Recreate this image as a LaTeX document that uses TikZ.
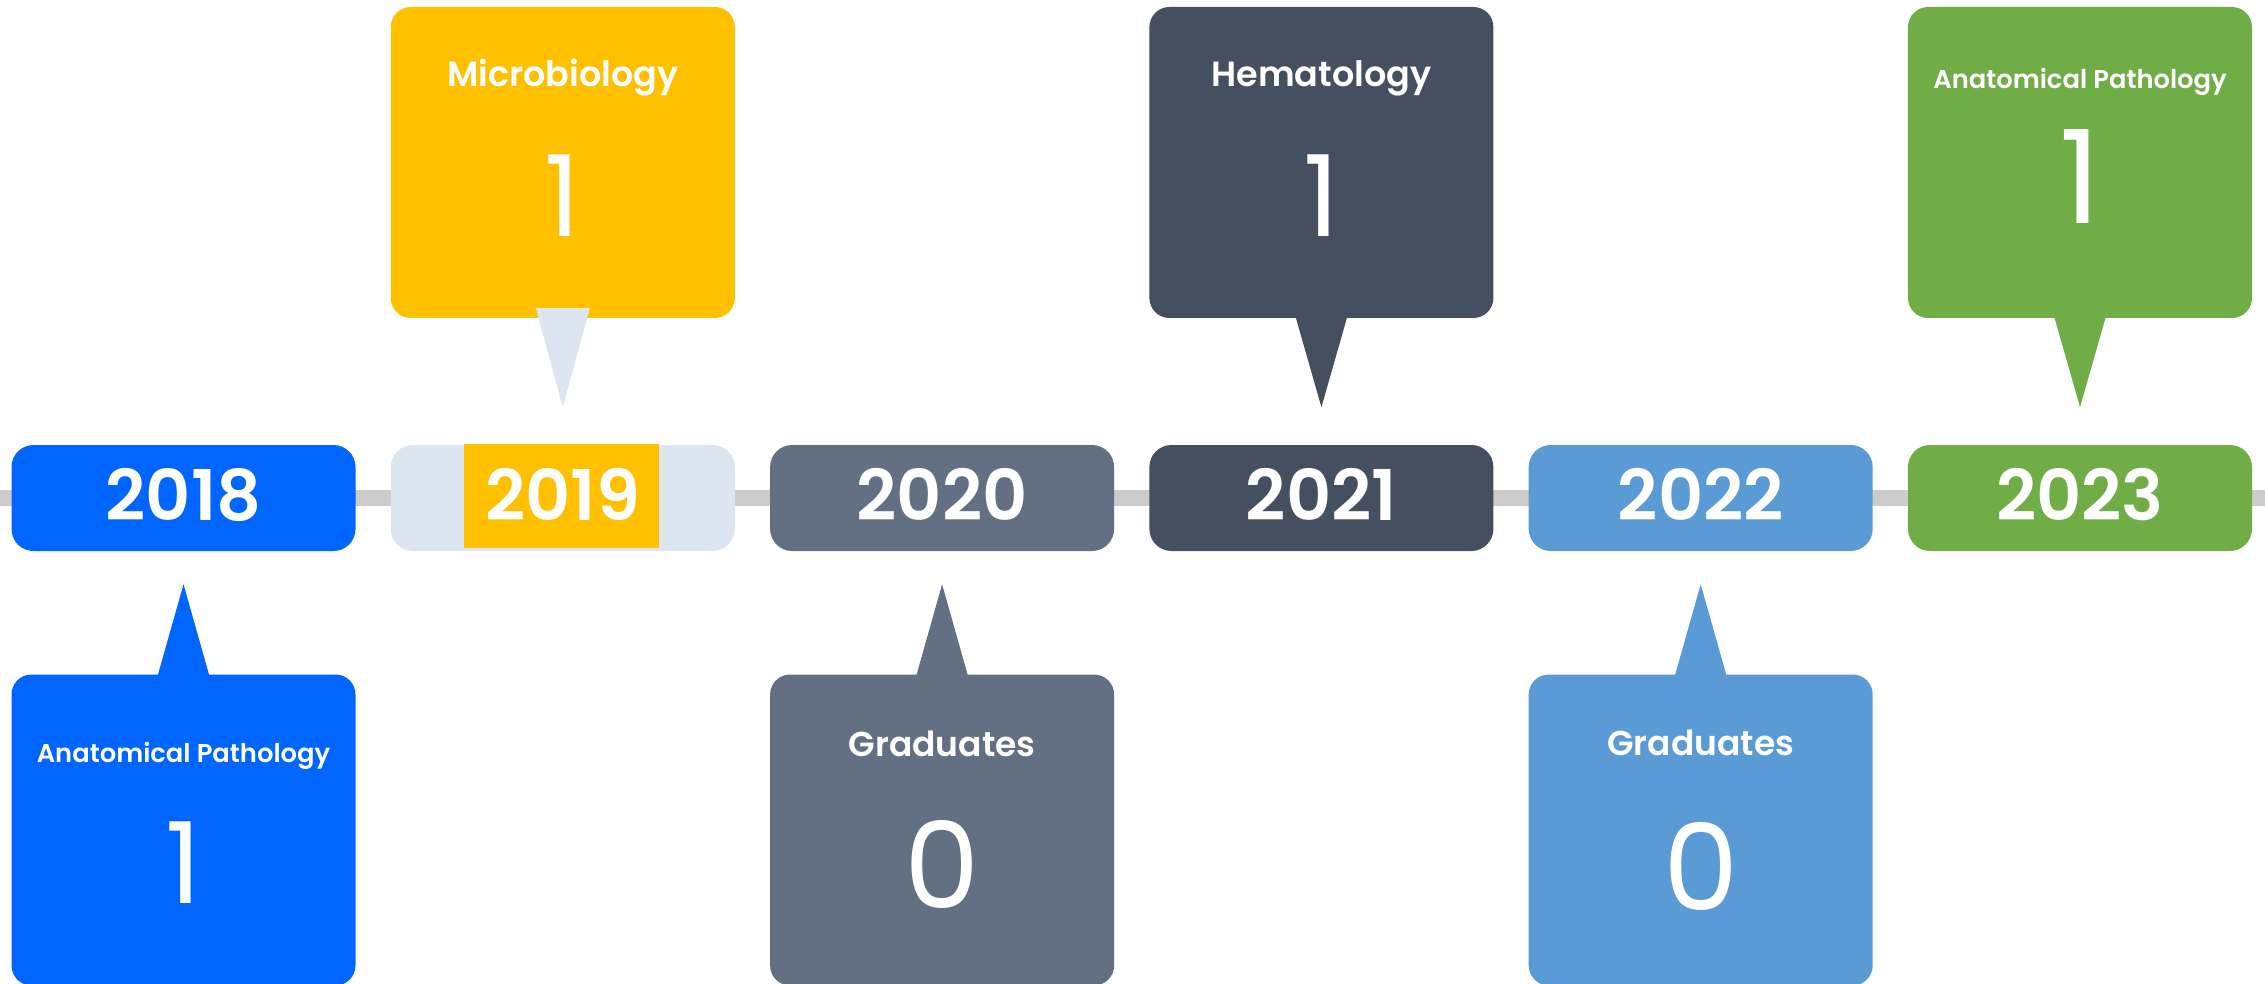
\documentclass[tikz,border=0pt]{standalone}
\usepackage{fontspec}
\setmainfont{Poppins}[BoldFont={Poppins SemiBold}]
\definecolor{c18}{HTML}{0066FF}
\definecolor{c19}{HTML}{FFC000}
\definecolor{c19l}{HTML}{DCE6F0}
\definecolor{c20}{HTML}{637083}
\definecolor{c21}{HTML}{444F60}
\definecolor{c22}{HTML}{5B9BD5}
\definecolor{c23}{HTML}{70AD47}
\definecolor{tline}{HTML}{CCCCCC}
\newcommand{\fs}[1]{\fontsize{#1}{#1}\selectfont}
\tikzset{
  yearbox/.style={rectangle, rounded corners=22pt, minimum width=344pt, minimum height=106pt, inner sep=0pt},
  yeartext/.style={anchor=base, text=white, inner sep=0pt, font=\fs{70}\bfseries},
  callbox/.style={rectangle, rounded corners=20pt, minimum width=344pt, minimum height=311pt, inner sep=0pt},
  lbl/.style={anchor=base, text=white, inner sep=0pt, font=\fs{35}\bfseries},
  lbls/.style={anchor=base, text=white, inner sep=0pt, font=\fs{25.8}\bfseries},
  lblg/.style={anchor=base, text=white, inner sep=0pt, font=\fs{34.5}\bfseries},
  num/.style={anchor=base, text=white, inner sep=0pt, font=\fs{113}},
}
\begin{document}
\begin{tikzpicture}[x=1pt,y=-1pt]
\useasboundingbox (0,0) rectangle (2265,984);
\clip (0,0) rectangle (2265,984);
% timeline
\coordinate (tl) at (0,498);
\coordinate (tr) at (2265,498);
\draw[tline, line width=16pt] (tl) -- (tr);
% year boxes
\node[yearbox, fill=c18] (y18) at (183.5,498) {};
\node[yearbox, fill=c19l] (y19) at (562.8,498) {};
\node[rectangle, fill=c19, minimum width=195pt, minimum height=104pt, inner sep=0pt] (y19r) at (561.5,496) {};
\node[yearbox, fill=c20] (y20) at (942.1,498) {};
\node[yearbox, fill=c21] (y21) at (1321.4,498) {};
\node[yearbox, fill=c22] (y22) at (1700.7,498) {};
\node[yearbox, fill=c23] (y23) at (2080,498) {};
\foreach \n/\t in {y18/2018,y19/2019,y20/2020,y21/2021,y22/2022,y23/2023}
  \node[yeartext] (\n t) at ([yshift=-22pt]\n.center) {\t};
% top callouts
\node[callbox, fill=c19] (k19) at (562.8,162.5) {};
\node[callbox, fill=c21] (k21) at (1321.4,162.5) {};
\node[callbox, fill=c23] (k23) at (2080,162.5) {};
\fill[c19l] ([xshift=-27pt,yshift=10pt]k19.south) -- ([xshift=27pt,yshift=10pt]k19.south) -- ([yshift=-89pt]k19.south) -- cycle;
\fill[c21] ([xshift=-26pt,yshift=2pt]k21.south) -- ([xshift=26pt,yshift=2pt]k21.south) -- ([yshift=-89pt]k21.south) -- cycle;
\fill[c23] ([xshift=-26pt,yshift=2pt]k23.south) -- ([xshift=26pt,yshift=2pt]k23.south) -- ([yshift=-89pt]k23.south) -- cycle;
% bottom callouts
\node[callbox, fill=c18] (k18) at (183.5,830) {};
\node[callbox, fill=c20] (k20) at (942.1,830) {};
\node[callbox, fill=c22] (k22) at (1700.7,830) {};
\foreach \k/\c in {k18/c18,k20/c20,k22/c22}
  \fill[\c] ([xshift=-26pt,yshift=-2pt]\k.north) -- ([xshift=26pt,yshift=-2pt]\k.north) -- ([yshift=90pt]\k.north) -- cycle;
% texts
\node[lbl] (m19) at (562.8,87) {Microbiology};
\node[num] (n19) at (562.8,237) {1};
\node[lbl] (m21) at (1321.4,87) {Hematology};
\node[num] (n21) at (1321.4,237) {1};
\node[lbls] (m23) at (2080,89) {Anatomical Pathology};
\node[num, font=\fs{130}] (n23) at (2080,224) {1};
\node[lbls] (m18) at (183.5,762) {Anatomical Pathology};
\node[num] (n18) at (183.5,903) {1};
\node[lblg] (m20) at (942.1,756) {Graduates};
\node[num, font=\fs{120}] (n20) at (942.1,908) {0};
\node[lblg] (m22) at (1700.7,755) {Graduates};
\node[num, font=\fs{120}] (n22) at (1700.7,910) {0};
\end{tikzpicture}
\end{document}
